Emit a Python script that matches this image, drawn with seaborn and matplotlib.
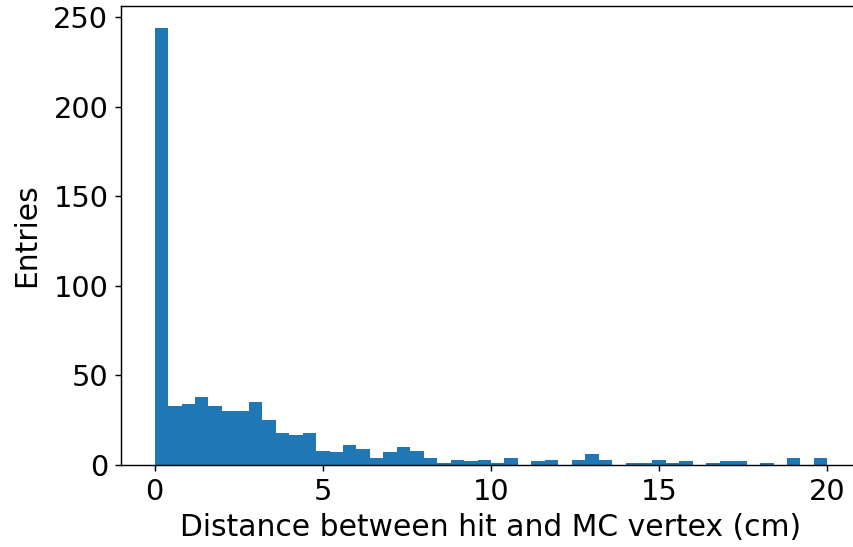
import numpy as np
import pandas as pd
import matplotlib
matplotlib.use("Agg")
import matplotlib.pyplot as plt
import seaborn as sns

# Histogram counts per 0.4 cm bin, 0..20 cm
counts = [244, 33, 34, 38, 33, 30, 30, 35, 25, 18,
          17, 18, 8, 7, 11, 9, 4, 7, 10, 8,
          4, 1, 3, 2, 3, 1, 4, 0, 2, 3,
          0, 3, 6, 3, 0, 1, 1, 3, 1, 2,
          0, 1, 2, 2, 0, 1, 0, 4, 0, 4]
x_min, x_max, n_bins = 0.0, 20.0, 50
x_label = "Distance between hit and MC vertex (cm)"
y_label = "Entries"

edges = np.linspace(x_min, x_max, n_bins + 1)
centers = 0.5 * (edges[:-1] + edges[1:])
df = pd.DataFrame({"dist": centers, "n": counts})

sns.set_style("ticks")
plt.rcParams["font.family"] = ["DejaVu Sans"]
plt.rcParams["xtick.direction"] = "out"
plt.rcParams["ytick.direction"] = "out"
plt.rcParams["text.color"] = "black"
plt.rcParams["axes.labelcolor"] = "black"

fig = plt.figure(figsize=(853 / 130, 547 / 130), dpi=130)
ax = fig.add_axes([121 / 853, 1 - 465 / 547, (861 - 121) / 853, (465 - 6) / 547])

sns.histplot(data=df, x="dist", weights="n",
             binwidth=(x_max - x_min) / n_bins, binrange=(x_min, x_max), ax=ax,
             color="#1f77b4", alpha=1.0, linewidth=0, element="bars")

ax.set_xlim(-1, 21)
ax.set_ylim(0, 244 * 1.05)
ax.set_xticks([0, 5, 10, 15, 20])
ax.set_yticks([0, 50, 100, 150, 200, 250])
ax.set_xlabel(x_label, fontsize=16.5, color="black", labelpad=4)
ax.set_ylabel(y_label, fontsize=16.5, color="black", labelpad=7)
ax.tick_params(labelsize=16, length=3.5, width=0.8, colors="black")
for s in ax.spines.values():
    s.set_visible(True)
    s.set_color("black")
    s.set_linewidth(0.8)

fig.savefig("out.png", dpi=130)
